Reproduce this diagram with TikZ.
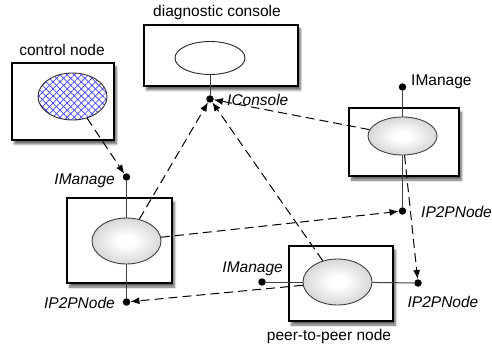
\documentclass[tikz,border=0pt]{standalone}
\usepackage{fontspec}
\setmainfont{Liberation Sans}
\usetikzlibrary{shapes.geometric,arrows.meta,shadows.blur,patterns.meta}
\pgfdeclareradialshading{nodeball}{\pgfpointorigin}{color(0bp)=(white); color(6bp)=(white); color(50bp)=(black!36)}
\begin{document}
\begin{tikzpicture}[x=1pt,y=-1pt,
 font=\fontsize{15.5}{18}\selectfont,
 box/.style={rectangle,draw=black,line width=1.2pt,fill=white,inner sep=0pt,
   blur shadow={shadow xshift=2.5pt,shadow yshift=-4pt,shadow blur steps=7,shadow opacity=60}},
 comp/.style={ellipse,draw=black!75,line width=0.9pt,inner sep=0pt,minimum width=69pt,minimum height=46pt,shading=nodeball},
 port/.style={circle,fill=black,inner sep=0pt,minimum size=7.5pt},
 stem/.style={line width=1pt,draw=black!75},
 dep/.style={line width=1pt,dash pattern=on 9pt off 5pt,-{Latex[length=9pt,width=7pt]}},
 lbl/.style={inner sep=0pt},
 iface/.style={inner sep=0pt,font=\fontsize{15.5}{18}\selectfont\itshape}]
\useasboundingbox (0,0) rectangle (492,347);

% boxes
\node[box,minimum width=102pt,minimum height=77pt] (bcn) at (63,101.5) {};
\node[box,minimum width=154pt,minimum height=61pt] (bdc) at (221,55.5) {};
\node[box,minimum width=110pt,minimum height=68pt] (br) at (404,142) {};
\node[box,minimum width=105pt,minimum height=85pt] (bl) at (119.5,240.5) {};
\node[box,minimum width=104pt,minimum height=75pt] (bp) at (341,283.5) {};

% titles
\node[lbl] (tcn) at (62,50) {control node};
\node[lbl] (tdc) at (217,12) {diagnostic console};
\node[lbl] (tpn) at (329,336) {peer-to-peer node};

% control node
\node[ellipse,draw=black!80,line width=0.9pt,inner sep=0pt,minimum width=69pt,minimum height=47pt,
  preaction={fill=white},
  preaction={pattern={Lines[angle=45,distance=5pt,line width=0.7pt]},pattern color=blue!75},
  pattern={Lines[angle=-45,distance=5pt,line width=0.7pt]},pattern color=blue!75] (ce) at (72.5,96.5) {};

% diagnostic console
\node[ellipse,draw=black!85,line width=0.9pt,fill=white,inner sep=0pt,minimum width=70pt,minimum height=33pt] (de) at (210,58) {};
\node[port] (pic) at (210,99) {};
\node[iface,anchor=west] (tic) at (227,100) {IConsole};
\draw[stem] (de) -- (pic);

% right node
\node[comp,minimum height=38pt] (re) at (402.5,136) {};
\node[port] (rim) at (402.5,87) {};
\node[lbl,anchor=west] (trim) at (411,82) {IManage};
\node[port] (rip) at (402.5,211) {};
\node[iface,anchor=west] (trip) at (421,212) {IP2PNode};
\draw[stem] (re) -- (rim);
\draw[stem] (re) -- (rip);

% left node
\node[comp] (le) at (126.5,241) {};
\node[port] (lim) at (126.5,177) {};
\node[iface,anchor=east] (tlim) at (115,181) {IManage};
\node[port] (lip) at (126.5,302) {};
\node[iface,anchor=east] (tlip) at (115,303) {IP2PNode};
\draw[stem] (le) -- (lim);
\draw[stem] (le) -- (lip);

% peer node
\node[comp] (pe) at (337.5,282) {};
\node[port] (pim) at (262,282) {};
\node[iface,anchor=east] (tpim) at (283,269) {IManage};
\node[port] (pip) at (418,283) {};
\node[iface] (tpip) at (443,302) {IP2PNode};
\draw[stem] (pe) -- (pim);
\draw[stem] (pe) -- (pip);

% dependencies
\draw[dep] (ce) -- (lim);
\draw[dep] (le) -- (pic);
\draw[dep] (pe) -- (pic);
\draw[dep] (re) -- (pic);
\draw[dep] (le) -- (rip);
\draw[dep] (pe) -- (lip);
\draw[dep] (re) -- (pip);
\end{tikzpicture}
\end{document}
